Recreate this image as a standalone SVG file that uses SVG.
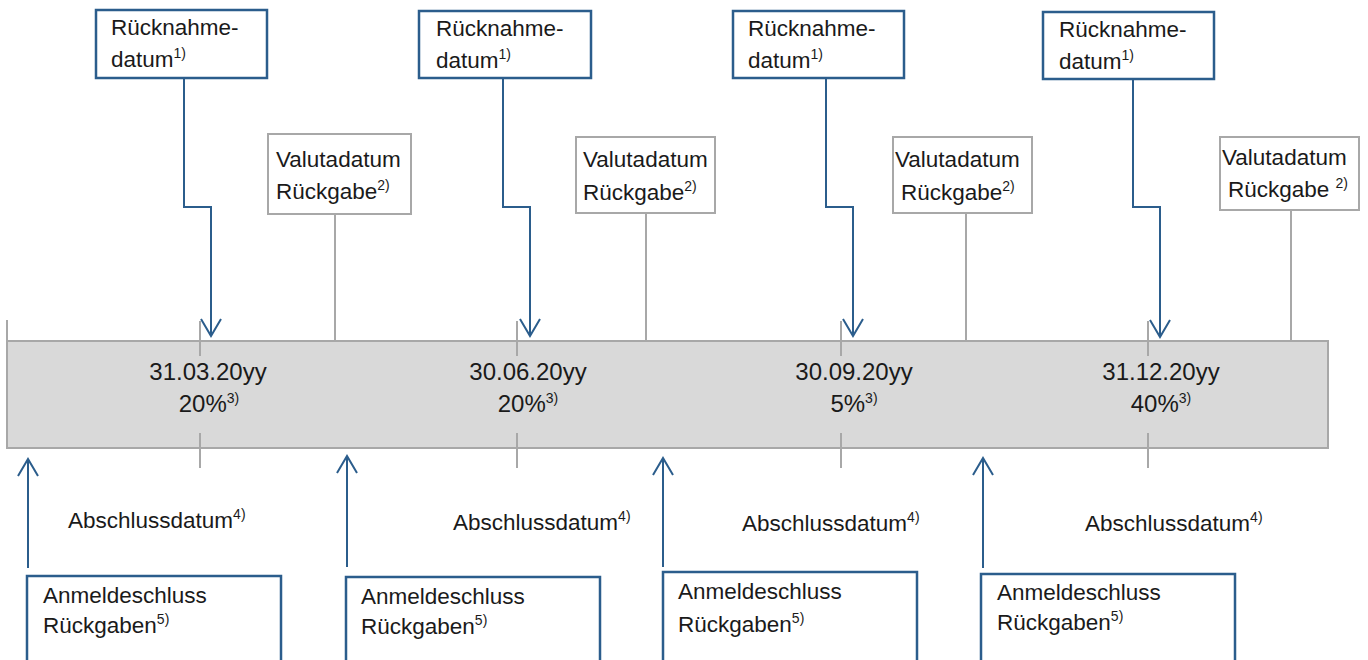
<svg xmlns="http://www.w3.org/2000/svg" width="1368" height="660" viewBox="0 0 1368 660">
<style>
text{font-family:"Liberation Sans",Arial,sans-serif;fill:#1a1a1a;font-size:22.5px}
.bar{font-size:24px}
.sup{font-size:14px}
.bbox{fill:#fff;stroke:#2b5d8c;stroke-width:2.5}
.gbox{fill:#fff;stroke:#a8a8a8;stroke-width:2}
.blue{fill:none;stroke:#2b5d8c;stroke-width:2}
.grey{fill:none;stroke:#a8a8a8;stroke-width:2}
</style>
<defs>
<marker id="ah" markerUnits="userSpaceOnUse" markerWidth="24" markerHeight="26" viewBox="-20 -12 24 24" refX="0" refY="0" orient="auto">
<path d="M-17,-10 L0,0 L-17,10" fill="none" stroke="#2b5d8c" stroke-width="2"/>
</marker>
</defs>

<g id="timeline">
<rect x="7" y="341" width="1321" height="107" fill="#d9d9d9" stroke="#a8a8a8" stroke-width="2"/>
<path class="grey" d="M7,320V341 M200,321V356 M517,321V356 M841,321V356 M1148,321V356 M200,433V468 M517,433V468 M841,433V468 M1148,433V468"/>
<text class="bar" x="208" y="380" text-anchor="middle">31.03.20yy</text>
<text class="bar" x="209" y="412" text-anchor="middle">20%<tspan class="sup" dy="-9">3)</tspan></text>
<text class="bar" x="528" y="380" text-anchor="middle">30.06.20yy</text>
<text class="bar" x="528" y="412" text-anchor="middle">20%<tspan class="sup" dy="-9">3)</tspan></text>
<text class="bar" x="854" y="380" text-anchor="middle">30.09.20yy</text>
<text class="bar" x="854" y="412" text-anchor="middle">5%<tspan class="sup" dy="-9">3)</tspan></text>
<text class="bar" x="1161" y="380" text-anchor="middle">31.12.20yy</text>
<text class="bar" x="1161" y="412" text-anchor="middle">40%<tspan class="sup" dy="-9">3)</tspan></text>
</g>

<g id="connectors">
<path class="blue" marker-end="url(#ah)" d="M184,78V207H211V336"/>
<path class="blue" marker-end="url(#ah)" d="M503,78V207H530V336"/>
<path class="blue" marker-end="url(#ah)" d="M826,78V207H853V336"/>
<path class="blue" marker-end="url(#ah)" d="M1133,79V207H1160V337"/>
<path class="blue" marker-end="url(#ah)" d="M28,568V459"/>
<path class="blue" marker-end="url(#ah)" d="M347,567V456"/>
<path class="blue" marker-end="url(#ah)" d="M663,567V458"/>
<path class="blue" marker-end="url(#ah)" d="M983,568V458"/>
<path class="grey" d="M335,214V341 M646,213V341 M966,213V341 M1291,210V341"/>
</g>

<g id="ruecknahme1"><rect class="bbox" x="96" y="10" width="171" height="68"/>
<text x="111" y="35">Rücknahme-</text><text x="111" y="67">datum<tspan class="sup" dy="-9">1)</tspan></text></g>
<g id="ruecknahme2"><rect class="bbox" x="419" y="11" width="172" height="67"/>
<text x="436" y="36">Rücknahme-</text><text x="436" y="68">datum<tspan class="sup" dy="-9">1)</tspan></text></g>
<g id="ruecknahme3"><rect class="bbox" x="733" y="11" width="171" height="67"/>
<text x="748" y="36">Rücknahme-</text><text x="748" y="68">datum<tspan class="sup" dy="-9">1)</tspan></text></g>
<g id="ruecknahme4"><rect class="bbox" x="1043" y="12" width="171" height="67"/>
<text x="1059" y="37">Rücknahme-</text><text x="1059" y="69">datum<tspan class="sup" dy="-9">1)</tspan></text></g>

<g id="valuta1"><rect class="gbox" x="268" y="134" width="143" height="80"/>
<text x="276" y="167">Valutadatum</text><text x="276" y="199">Rückgabe<tspan class="sup" dy="-9">2)</tspan></text></g>
<g id="valuta2"><rect class="gbox" x="576" y="137" width="139" height="76"/>
<text x="583" y="167">Valutadatum</text><text x="583" y="200">Rückgabe<tspan class="sup" dy="-9">2)</tspan></text></g>
<g id="valuta3"><rect class="gbox" x="893" y="137" width="139" height="76"/>
<text x="895" y="167">Valutadatum</text><text x="901" y="200">Rückgabe<tspan class="sup" dy="-9">2)</tspan></text></g>
<g id="valuta4"><rect class="gbox" x="1220" y="137" width="139" height="73"/>
<text x="1222" y="165">Valutadatum</text><text x="1228" y="197">Rückgabe <tspan class="sup" dy="-9">2)</tspan></text></g>

<g id="abschluss1"><text x="68" y="528">Abschlussdatum<tspan class="sup" dy="-9">4)</tspan></text></g>
<g id="abschluss2"><text x="453" y="530">Abschlussdatum<tspan class="sup" dy="-9">4)</tspan></text></g>
<g id="abschluss3"><text x="742" y="531">Abschlussdatum<tspan class="sup" dy="-9">4)</tspan></text></g>
<g id="abschluss4"><text x="1085" y="531">Abschlussdatum<tspan class="sup" dy="-9">4)</tspan></text></g>

<g id="anmelde1"><rect class="bbox" x="27" y="576" width="254" height="100"/>
<text x="43" y="603">Anmeldeschluss</text><text x="43" y="633">Rückgaben<tspan class="sup" dy="-9">5)</tspan></text></g>
<g id="anmelde2"><rect class="bbox" x="346" y="577" width="254" height="100"/>
<text x="361" y="604">Anmeldeschluss</text><text x="361" y="634">Rückgaben<tspan class="sup" dy="-9">5)</tspan></text></g>
<g id="anmelde3"><rect class="bbox" x="663" y="572" width="254" height="100"/>
<text x="678" y="599">Anmeldeschluss</text><text x="678" y="632">Rückgaben<tspan class="sup" dy="-9">5)</tspan></text></g>
<g id="anmelde4"><rect class="bbox" x="981" y="574" width="254" height="100"/>
<text x="997" y="600">Anmeldeschluss</text><text x="997" y="630">Rückgaben<tspan class="sup" dy="-9">5)</tspan></text></g>
</svg>
